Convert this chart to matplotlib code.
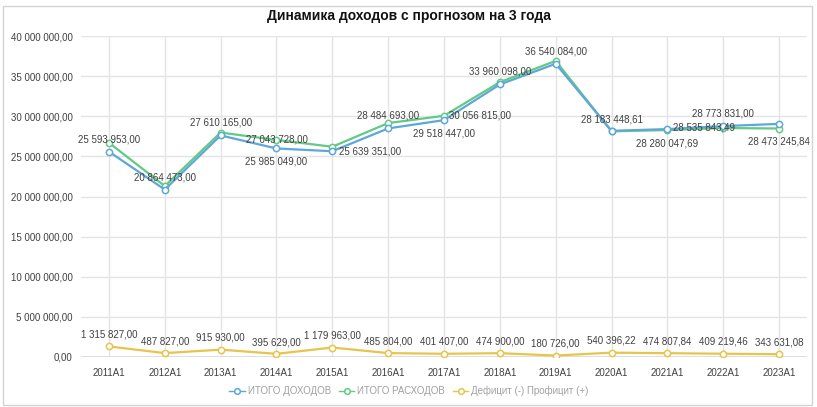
import matplotlib
matplotlib.use("Agg")
import matplotlib.pyplot as plt
from matplotlib.ticker import FuncFormatter, MultipleLocator
from matplotlib.patches import Rectangle

# данные
years = ["2011A1", "2012A1", "2013A1", "2014A1", "2015A1", "2016A1", "2017A1",
         "2018A1", "2019A1", "2020A1", "2021A1", "2022A1", "2023A1"]
income = [25593953, 20864473, 27610165, 25985049, 25639351, 28484693, 29518447,
          33960098, 36540084, 28183448.61, 28400000, 28773831, 29050000]
expenses = [26700000, 21300000, 27970000, 27043728, 26200000, 29150000, 30056815,
            34250000, 36900000, 28120000, 28280047.69, 28535843.49, 28473245.84]
balance = [1315827, 487827, 915930, 395629, 1179963, 485804, 401407,
           474900, 180726, 540396.22, 474807.84, 409219.46, 343631.08]

names = ["ИТОГО ДОХОДОВ", "ИТОГО РАСХОДОВ", "Дефицит (-) Профицит (+)"]
colors = ["#5ea7d8", "#63c985", "#e7c44c"]

# какие подписи видны на верхних линиях: (ряд, индекс, смещение в pt)
labels_top = [
    ("inc", 0, (0, 9)), ("inc", 1, (0, 9)), ("inc", 2, (0, 9)),
    ("exp", 3, (0, 0)), ("inc", 3, (0, -9.5)), ("inc", 4, (27, 0)),
    ("inc", 5, (0, 9)), ("inc", 6, (0, -9.5)), ("exp", 6, (26, 0)),
    ("inc", 7, (0, 9)), ("inc", 8, (0, 9)), ("inc", 9, (0, 8)),
    ("exp", 10, (0, -10)), ("exp", 11, (-14, 0)), ("inc", 11, (0, 9)),
    ("exp", 12, (0, -9.5)),
]


def fmt(v, pos=None):
    return f"{v:,.2f}".replace(",", " ").replace(".", ",")


plt.rcParams['font.family'] = ['Liberation Sans', 'DejaVu Sans']

fig = plt.figure(figsize=(8.17, 4.07), dpi=100)
ax = fig.add_axes([81 / 817, 50 / 407, 726 / 817, 321 / 407])

x = list(range(len(years)))
series = {"inc": income, "exp": expenses}
for vals, name, c, z in [(income, names[0], colors[0], 4),
                         (expenses, names[1], colors[1], 3),
                         (balance, names[2], colors[2], 3)]:
    ax.plot(x, vals, color=c, lw=1.6, marker="o", ms=4.5, mfc="white",
            mec=c, mew=1.1, label=name, zorder=z)

for key, i, off in labels_top:
    v = series[key][i]
    ax.annotate(fmt(v), (i, v), xytext=off, textcoords="offset points",
                ha="center", va="center", fontsize=7, color="#404040", zorder=6)

for i, v in enumerate(balance):
    ax.annotate(fmt(v), (i, v), xytext=(0, 8.5), textcoords="offset points",
                ha="center", va="center", fontsize=7, color="#404040", zorder=6)

ax.set_xlim(-0.5, len(years) - 0.5)
ax.set_ylim(0, 40000000)
ax.yaxis.set_major_locator(MultipleLocator(5000000))
ax.yaxis.set_major_formatter(FuncFormatter(fmt))
ax.set_xticks(x)
ax.set_xticklabels(years)
ax.tick_params(length=0, labelsize=7, colors="#404040")
ax.tick_params(axis="y", pad=6)
ax.tick_params(axis="x", pad=8)
ax.grid(True, color="#e4e4e4", lw=1)
ax.set_axisbelow(True)
for s in ax.spines.values():
    s.set_visible(False)
ax.axhline(0, color="#d9d9d9", lw=1.2, zorder=1)

fig.text(0.5, 1 - 16 / 407, "Динамика доходов с прогнозом на 3 года",
         ha="center", va="center", fontsize=10, fontweight="bold", color="#111111")

leg = fig.legend(loc="center", bbox_to_anchor=(409 / 817, 1 - 391 / 407), ncol=3,
                 frameon=False, fontsize=7, handlelength=1.6, handletextpad=0.3,
                 columnspacing=0.8, markerscale=0.9)
for t in leg.get_texts():
    t.set_color("#a0a0a0")
for h in leg.get_lines():
    h.set_linewidth(1.0)

fig.patches.append(Rectangle((3 / 817, 2 / 407), 809 / 817, 399 / 407,
                             transform=fig.transFigure, fill=False,
                             edgecolor="#d4d4d4", lw=1))

fig.savefig("out.png", dpi=100)
